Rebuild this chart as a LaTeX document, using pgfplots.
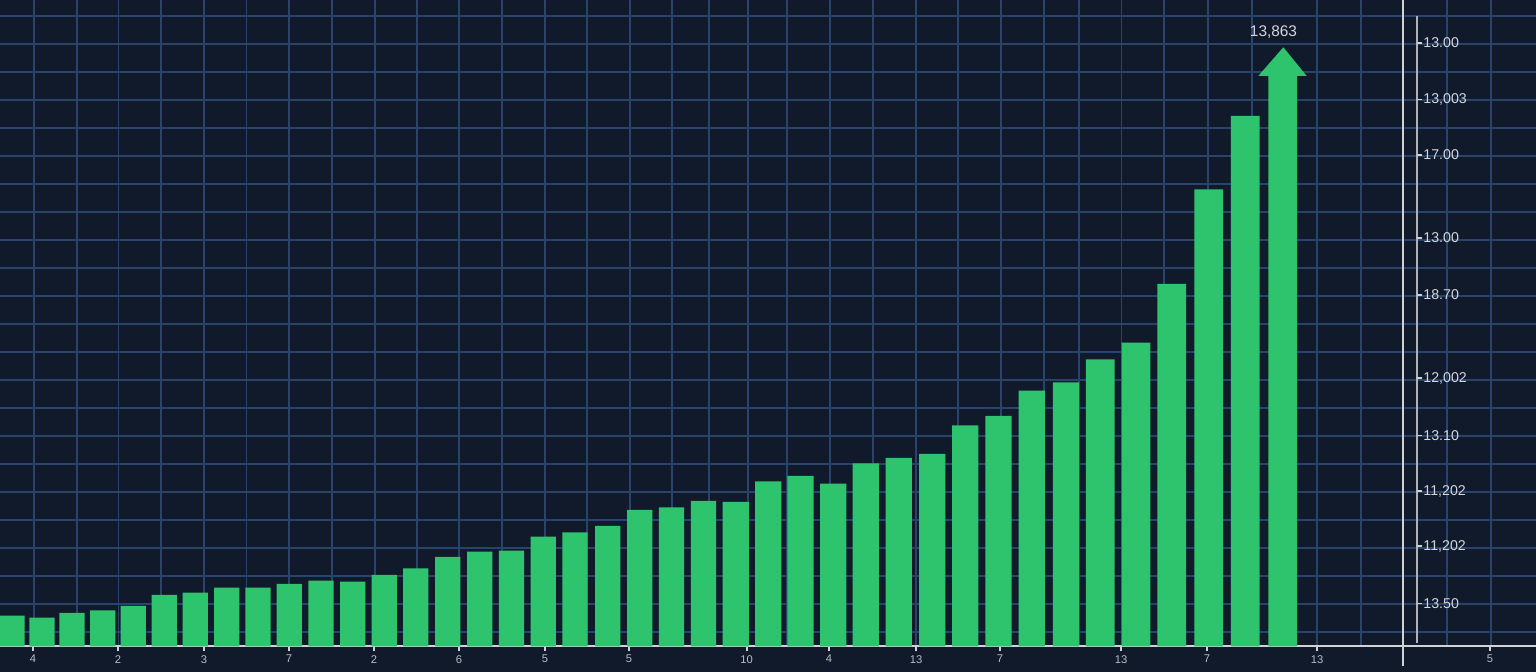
\documentclass[border=0pt]{standalone}
\usepackage{pgfplots}
\pgfplotsset{compat=1.18}
\usepackage{pgfplotstable}
\usepackage{fontspec}
\setmainfont{Liberation Sans}
\definecolor{bg}{HTML}{111A2B}
\definecolor{gridc}{HTML}{28446C}
\definecolor{barg}{HTML}{2EC46E}
\definecolor{txt}{HTML}{D4D6DA}
\definecolor{axl}{HTML}{D0D2D6}

% x = bar centre, h = bar height above the baseline
\pgfplotstableread{
x h
12 30.8
42 28.8
72 33.5
102.7 36.2
133.2 40.5
164.3 51.5
195.2 53.8
226.7 58.8
258 58.8
289.3 62.5
321 65.8
352.7 64.8
384.3 71.5
415.8 78.2
447.7 89.5
479.8 94.8
511.5 95.8
543.3 109.8
575 114.2
607.7 120.5
639.7 136.5
671.5 139.2
703.5 145.5
}\barsA
\pgfplotstableread{
x h
735.8 144.5
768.3 165.2
800.5 170.5
833.3 162.8
865.7 183.2
898.8 188.5
932.2 192.5
965.3 221.2
998.5 230.5
1031.8 255.8
1066 264.2
}\barsB
\pgfplotstableread{
x h
1100.3 287.2
1136 303.8
1171.8 362.5
1208.7 457.2
1245.2 530.5
1282.8 571
}\barsC

\begin{document}
\begin{tikzpicture}
\fill[bg] (0,-12.75pt) rectangle (768pt,323.25pt);
\begin{axis}[
  at={(0,0)}, anchor=south west,
  width=768pt, height=323.25pt, scale only axis,
  xmin=0, xmax=1536, ymin=0, ymax=646.5,
  clip=false,
  axis x line=bottom, axis y line=left,
  x axis line style={-, draw=axl, line width=1pt},
  y axis line style={draw=none},
  xtick={34,77,118.5,161,204,246.5,289,332,374.7,416.7,459.3,502,545,587,630,672,709,748,787.3,830.3,872.7,916,958.3,1001,1044,1079,1121.5,1164,1208.3,1252.3,1317.3,1360.7,1446.7,1490.7},
  xticklabels={},
  ytick={14.5,42.5,...,630.5},
  yticklabels={},
  major tick length=0pt,
  grid=major,
  major grid style={draw=gridc, line width=0.85pt},
  extra x ticks={33,118,204,289,374,459,545,629,746.7,829,916,1000,1121,1207,1317,1490},
  extra x tick labels={4,2,3,7,2,6,5,5,10,4,13,7,13,7,13,5},
  extra x tick style={grid=none, tick align=outside, major tick length=2.5pt,
     tick style={draw=axl, line width=0.8pt},
     xticklabel style={font=\fontsize{5.6}{6}\selectfont, text=txt!88!black, inner sep=0pt, anchor=north, yshift=-1.7pt}},
]
\addplot[ybar, bar width=25.2, bar shift=0pt, fill=barg, draw=none] table[x=x,y=h] {\barsA};
\addplot[ybar, bar width=26.2, bar shift=0pt, fill=barg, draw=none] table[x=x,y=h] {\barsB};
\addplot[ybar, bar width=28.8, bar shift=0pt, fill=barg, draw=none] table[x=x,y=h] {\barsC};
% arrow head on the last bar
\addplot[fill=barg, draw=none] coordinates {(1258.3,570.5) (1306.7,570.5) (1283.3,599.2)};

\node[text=txt, font=\fontsize{7.7}{9}\selectfont] at (axis cs:1273.5,614.5) {13,863};

% separator line
\draw[draw=axl, line width=1pt] (axis cs:1402.5,-19.5) -- (axis cs:1402.5,646.5);
% right value axis
\draw[draw=axl!85!black, line width=0.9pt] (axis cs:1416.7,3.5) -- (axis cs:1416.7,630.5);
\draw[draw=axl, line width=0.7pt]
  (axis cs:1416.7,603.5) -- (axis cs:1422,603.5)
  (axis cs:1416.7,547.1) -- (axis cs:1422,547.1)
  (axis cs:1416.7,491.5) -- (axis cs:1422,491.5)
  (axis cs:1416.7,408.5) -- (axis cs:1422,408.5)
  (axis cs:1416.7,351.5) -- (axis cs:1422,351.5)
  (axis cs:1416.7,268.5) -- (axis cs:1422,268.5)
  (axis cs:1416.7,211) -- (axis cs:1422,211)
  (axis cs:1416.7,155.5) -- (axis cs:1422,155.5)
  (axis cs:1416.7,100.5) -- (axis cs:1422,100.5)
  (axis cs:1416.7,43.1) -- (axis cs:1422,43.1);
\begin{scope}[every node/.style={anchor=west, text=txt, inner sep=0pt, font=\fontsize{7.1}{8}\selectfont}]
\node at (axis cs:1423,603.5) {13.00};
\node at (axis cs:1423,547.1) {13,003};
\node at (axis cs:1423,491.5) {17.00};
\node at (axis cs:1423,408.5) {13.00};
\node at (axis cs:1423,351.5) {18.70};
\node at (axis cs:1423,268.5) {12,002};
\node at (axis cs:1423,211) {13.10};
\node at (axis cs:1423,155.5) {11,202};
\node at (axis cs:1423,100.5) {11,202};
\node at (axis cs:1423,43.1) {13.50};
\end{scope}
\end{axis}
\pgfresetboundingbox
\useasboundingbox (0,-12.75pt) rectangle (768pt,323.25pt);
\end{tikzpicture}
\end{document}
